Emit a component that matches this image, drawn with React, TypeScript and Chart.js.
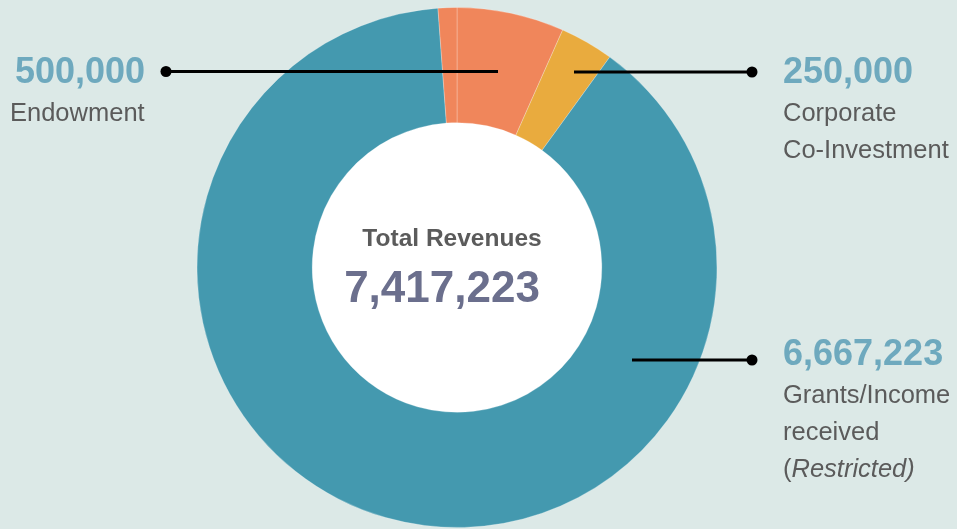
import React, { useEffect, useRef } from "react";
import { Chart, registerables } from "chart.js";

Chart.register(...registerables);

const categories = ["Endowment", "Corporate Co-Investment", "Grants/Income received (Restricted)", "Other"];
const values = [500000, 250000, 6667223, 87600];
const colors = ["#F0865B", "#E9AB3E", "#4499AF", "#F0865B"];
const totalLabel = "Total Revenues";
const totalValue = "7,417,223";

// annotation layout (text + leader lines)
const annotations = [
  { value: "500,000", lines: ["Endowment"], tx: 15, dx: 10, ty: 83, lineY: 71.5, x1: 166, x2: 498 },
  { value: "250,000", lines: ["Corporate", "Co-Investment"], tx: 783, dx: 783, ty: 83, lineY: 72, x1: 752, x2: 574 },
  { value: "6,667,223", lines: ["Grants/Income", "received", "(|Restricted)"], tx: 783, dx: 783, ty: 365, lineY: 360, x1: 752, x2: 632 },
];

const FONT = "'Liberation Sans', Arial, Helvetica, sans-serif";

const holePlugin = {
  id: "hole",
  beforeDatasetsDraw(chart: any) {
    const arc = chart.getDatasetMeta(0).data[0];
    if (!arc) return;
    const ctx = chart.ctx;
    ctx.save();
    ctx.fillStyle = "#FFFFFF";
    ctx.beginPath();
    ctx.arc(arc.x, arc.y, arc.innerRadius + 1, 0, Math.PI * 2);
    ctx.fill();
    ctx.restore();
  },
};

const labelPlugin = {
  id: "labels",
  afterDraw(chart: any) {
    const ctx = chart.ctx;
    ctx.save();
    for (const a of annotations) {
      ctx.strokeStyle = "#000";
      ctx.lineWidth = 3;
      ctx.beginPath();
      ctx.moveTo(a.x1, a.lineY);
      ctx.lineTo(a.x2, a.lineY);
      ctx.stroke();
      ctx.fillStyle = "#000";
      ctx.beginPath();
      ctx.arc(a.x1, a.lineY, 5.5, 0, Math.PI * 2);
      ctx.fill();
    }
    ctx.textBaseline = "alphabetic";
    ctx.textAlign = "left";
    for (const a of annotations) {
      ctx.font = `bold 36px ${FONT}`;
      ctx.fillStyle = "#6EA9BE";
      ctx.fillText(a.value, a.tx, a.ty);
      ctx.fillStyle = "#5B5B5B";
      a.lines.forEach((ln, i) => {
        const y = a.ty + 38 + i * 37;
        if (ln.includes("|")) {
          const parts = ln.split("|");
          let x = a.dx;
          parts.forEach((p, j) => {
            ctx.font = j === 1 ? `italic 25.5px ${FONT}` : `25.5px ${FONT}`;
            ctx.fillText(p, x, y);
            x += ctx.measureText(p).width;
          });
        } else {
          ctx.font = `25.5px ${FONT}`;
          ctx.fillText(ln, a.dx, y);
        }
      });
    }
    const arc = chart.getDatasetMeta(0).data[0];
    const cx = arc.x;
    const cy = arc.y;
    ctx.textAlign = "center";
    ctx.fillStyle = "#5B5B5B";
    ctx.font = `bold 24.5px ${FONT}`;
    ctx.fillText(totalLabel, cx - 5, cy - 22);
    ctx.fillStyle = "#6B6F8D";
    ctx.font = `bold 44px ${FONT}`;
    ctx.fillText(totalValue, cx - 15, cy + 34);
    ctx.restore();
  },
};

export default function App() {
  const ref = useRef<HTMLCanvasElement>(null);
  useEffect(() => {
    document.body.style.margin = "0";
    const chart = new Chart(ref.current!, {
      type: "doughnut",
      data: {
        labels: categories,
        datasets: [
          {
            data: values,
            backgroundColor: colors,
            borderColor: "rgba(255,255,255,0.25)",
            borderWidth: 1,
            hoverOffset: 0,
          },
        ],
      },
      options: {
        responsive: false,
        animation: false,
        devicePixelRatio: 1,
        cutout: "55.7%",
        rotation: 0,
        layout: { padding: { left: 196, right: 239, top: 7, bottom: 1 } },
        plugins: { legend: { display: false }, tooltip: { enabled: false } },
      },
      plugins: [holePlugin, labelPlugin],
    });
    return () => chart.destroy();
  }, []);
  return (
    <div style={{ width: 957, height: 529, background: "#DCE9E7" }}>
      <canvas ref={ref} width={957} height={529} style={{ display: "block" }} />
    </div>
  );
}
